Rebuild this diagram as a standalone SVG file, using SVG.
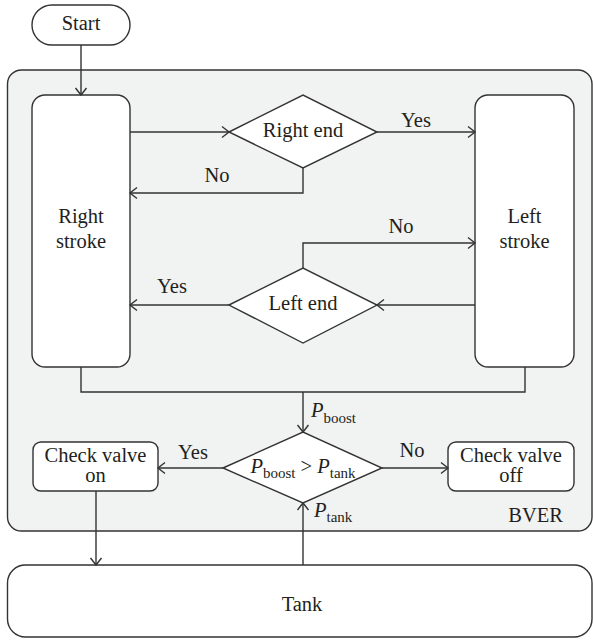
<svg xmlns="http://www.w3.org/2000/svg" width="593" height="642" viewBox="0 0 593 642">
  <style>
    .box { fill: #ffffff; stroke: #333333; stroke-width: 1.4; }
    .cont { fill: #f1f2f2; stroke: #333333; stroke-width: 1.4; }
    .ln { fill: none; stroke: #333333; stroke-width: 1.4; }
    .arr { fill: none; stroke: #333333; stroke-width: 1.4; marker-end: url(#ah); }
    text { font-family: "Liberation Serif", "Times New Roman", serif; font-size: 20.5px; fill: #231f20; }
    .c { text-anchor: middle; }
    .it { font-style: italic; }
    .sub { font-size: 15px; }
  </style>
  <defs>
    <marker id="ah" markerUnits="userSpaceOnUse" markerWidth="10" markerHeight="14" refX="8" refY="6.5" orient="auto" viewBox="0 0 10 13">
      <path d="M1,1 L8,6.5 L1,12" fill="none" stroke="#333333" stroke-width="1.4"/>
    </marker>
  </defs>

  <g id="bver">
    <rect class="cont" x="7.5" y="70" width="584.5" height="461" rx="14"/>
    <text x="563" y="522" text-anchor="end">BVER</text>
  </g>

  <g id="start">
    <rect class="box" x="32" y="5" width="98" height="40" rx="20"/>
    <text class="c" x="81" y="30">Start</text>
  </g>

  <g id="right-stroke">
    <rect class="box" x="32" y="95" width="98" height="272" rx="13"/>
    <text class="c" x="81" y="223">Right</text>
    <text class="c" x="81" y="248">stroke</text>
  </g>

  <g id="left-stroke">
    <rect class="box" x="475" y="95" width="99" height="272" rx="13"/>
    <text class="c" x="524.5" y="223">Left</text>
    <text class="c" x="524.5" y="248">stroke</text>
  </g>

  <g id="right-end">
    <polygon class="box" points="229,132 303,95 377,132 303,168"/>
    <text class="c" x="303" y="137">Right end</text>
  </g>

  <g id="left-end">
    <polygon class="box" points="229,305 303,268 377,305 303,343"/>
    <text class="c" x="303" y="310">Left end</text>
  </g>

  <g id="compare">
    <polygon class="box" points="223,468 303,432 382,468 303,503"/>
    <text class="c" x="303" y="473"><tspan class="it">P</tspan><tspan class="sub" dy="5">boost</tspan><tspan dy="-5"> &gt; </tspan><tspan class="it">P</tspan><tspan class="sub" dy="5">tank</tspan></text>
  </g>

  <g id="check-valve-on">
    <rect class="box" x="33" y="442" width="125" height="49" rx="8"/>
    <text class="c" x="95.5" y="462">Check valve</text>
    <text class="c" x="95.5" y="482">on</text>
  </g>

  <g id="check-valve-off">
    <rect class="box" x="448" y="442" width="126" height="49" rx="8"/>
    <text class="c" x="511" y="462">Check valve</text>
    <text class="c" x="511" y="482">off</text>
  </g>

  <g id="tank">
    <rect class="box" x="7.5" y="565" width="584.5" height="72" rx="18"/>
    <text class="c" x="302" y="611">Tank</text>
  </g>

  <g id="connectors">
    <path class="arr" d="M81,45 L81,95"/>
    <path class="arr" d="M130,132 L229,132"/>
    <path class="arr" d="M377,132 L475,132"/>
    <path class="arr" d="M303,168 L303,193 L130,193"/>
    <path class="arr" d="M303,268 L303,243 L475,243"/>
    <path class="arr" d="M475,305 L377,305"/>
    <path class="arr" d="M229,305 L130,305"/>
    <path class="ln" d="M81,367 L81,392 L525,392 L525,367"/>
    <path class="arr" d="M303,392 L303,432"/>
    <path class="arr" d="M223,468 L158,468"/>
    <path class="arr" d="M382,468 L448,468"/>
    <path class="arr" d="M96,491 L96,565"/>
    <path class="arr" d="M303,565 L303,503"/>

    <text class="c" x="416" y="127">Yes</text>
    <text class="c" x="217" y="182">No</text>
    <text class="c" x="401" y="233">No</text>
    <text class="c" x="172" y="293">Yes</text>
    <text class="c" x="193" y="459">Yes</text>
    <text class="c" x="412" y="457">No</text>
    <text x="311" y="417"><tspan class="it">P</tspan><tspan class="sub" dy="6">boost</tspan></text>
    <text x="314" y="517"><tspan class="it">P</tspan><tspan class="sub" dy="5">tank</tspan></text>
  </g>
</svg>
